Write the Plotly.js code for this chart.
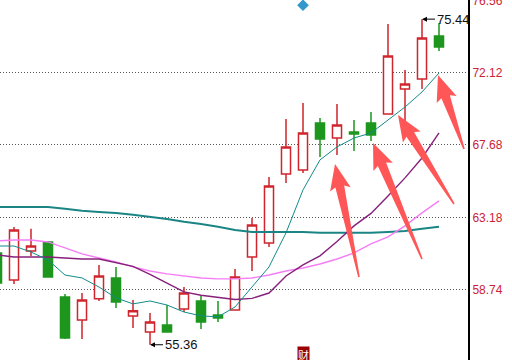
<!DOCTYPE html>
<html><head><meta charset="utf-8">
<script src="https://cdn.plot.ly/plotly-3.0.1.min.js"></script>
<style>html,body{margin:0;padding:0;background:#fff;overflow:hidden}#chart{width:512px;height:360px}</style>
</head><body><div id="chart"></div>
<script>
// ---- data ----
const idx   = [0,1,2,3,4,5,6,7,8,9,10,11,12,13,14,15,16,17,18,19,20,21,22,23,24,25,26];
const open  = [61.02,59.36,61.14,61.70,58.31,56.89,58.19,59.48,57.14,56.15,56.58,57.57,58.06,57.20,57.51,60.77,61.64,65.89,66.14,69.04,68.11,68.48,69.04,69.59,71.13,71.75,74.40];
const high  = [61.10,62.62,62.51,61.76,58.49,58.55,60.28,60.16,58.12,57.32,57.81,58.92,58.37,58.06,60.03,63.18,65.71,69.28,70.27,69.35,70.21,69.22,69.72,75.14,72.31,75.44,75.20];
const low   = [59.10,59.11,60.84,59.54,55.72,55.72,58.06,57.63,56.40,55.36,56.15,57.38,56.33,56.77,57.45,59.91,61.39,65.34,65.95,66.94,67.06,67.31,67.93,69.59,69.16,71.13,73.48];
const close = [59.17,62.44,61.45,59.54,55.78,58.12,59.60,58.00,57.45,56.77,56.15,58.55,56.77,57.01,59.54,62.75,65.15,67.56,68.42,68.05,68.91,68.36,68.30,73.17,71.44,74.28,73.72];
const ma5   = [61.45,61.45,61.08,60.59,59.66,59.48,58.92,58.25,57.88,58.06,57.81,57.38,57.14,57.08,57.69,58.92,60.16,62.26,64.91,66.76,67.56,68.11,68.42,69.22,70.02,70.95,72.12];
const ma10  = [60.90,60.77,60.77,60.77,60.71,60.65,60.65,60.40,60.19,59.70,59.14,58.62,58.41,58.26,58.15,58.22,58.55,59.60,60.28,60.84,61.73,62.69,63.46,64.54,65.65,66.88,68.42];
const ma20  = [61.76,61.82,61.82,61.70,61.33,60.96,60.71,60.47,60.16,59.91,59.73,59.60,59.48,59.42,59.42,59.48,59.66,59.91,60.09,60.34,60.65,61.02,61.58,62.01,62.69,63.49,64.23];
const ma60  = [63.86,63.86,63.86,63.86,63.74,63.62,63.55,63.49,63.37,63.24,63.12,62.94,62.81,62.63,62.44,62.32,62.32,62.32,62.32,62.26,62.26,62.26,62.26,62.32,62.38,62.51,62.63];
const tickVals   = [58.74,63.18,67.68,72.12,76.56];
const tickLabels = ['58.74','63.18','67.68','72.12','76.56'];
const signalX = [18];
const signalY = [76.30];
const badgeX = 18;
const badgeText = '财';

// ---- helpers ----
const PW = 468, PH = 360;
const X = p => (p / PW).toFixed(5);
const Y = p => (1 - p / PH).toFixed(5);
function arrowPath(tx, ty, ex, ey) {
  const L = Math.hypot(ex - tx, ey - ty);
  const ux = (ex - tx) / L, uy = (ey - ty) / L, nx = -uy, ny = ux;
  const hl = 26, hw = 10.5, sl = 23, sw = 4.5, tw = 0.8;
  const pts = [
    [tx, ty],
    [tx + ux*hl + nx*hw, ty + uy*hl + ny*hw],
    [tx + ux*sl + nx*sw, ty + uy*sl + ny*sw],
    [ex + nx*tw, ey + ny*tw],
    [ex - nx*tw, ey - ny*tw],
    [tx + ux*sl - nx*sw, ty + uy*sl - ny*sw],
    [tx + ux*hl - nx*hw, ty + uy*hl - ny*hw]
  ];
  return 'M' + pts.map(p => X(p[0]) + ',' + Y(p[1])).join(' L') + ' Z';
}
const arrowDefs = [[335,164,359,277],[373,143,422,259],[398,115,454,204],[438,75,464,149]];
const shapes = arrowDefs.map(a => ({
  type: 'path', xref: 'paper', yref: 'paper', path: arrowPath(...a),
  fillcolor: '#ff5757', line: {width: 0}, layer: 'above'
}));

let hiI = 0, loI = 0;
high.forEach((v, i) => { if (v > high[hiI]) hiI = i; });
low.forEach((v, i) => { if (v < low[loI]) loI = i; });

const traces = [
  {type:'scatter', mode:'lines', x: idx, y: ma60, line:{color:'#1b8585', width:2}, hoverinfo:'skip'},
  {type:'scatter', mode:'lines', x: idx, y: ma20, line:{color:'#f57ef5', width:1.4}, hoverinfo:'skip'},
  {type:'scatter', mode:'lines', x: idx, y: ma10, line:{color:'#86207a', width:1.4}, hoverinfo:'skip'},
  {type:'scatter', mode:'lines', x: idx, y: ma5,  line:{color:'#128b8b', width:1}, hoverinfo:'skip'},
  {type:'candlestick', x: idx, open: open, high: high, low: low, close: close,
   increasing:{line:{color:'#d0252d', width:1.5}, fillcolor:'#ffffff'},
   decreasing:{line:{color:'#1d961d', width:1.5}, fillcolor:'#1d961d'},
   whiskerwidth: 0, hoverinfo:'skip'},
  {type:'scatter', mode:'markers', x: signalX, y: signalY,
   marker:{symbol:'diamond', size:9, color:'#3399cc'}, hoverinfo:'skip'}
];

const layout = {
  width: 512, height: 360,
  margin: {l:0, r:44, t:0, b:0},
  paper_bgcolor: '#ffffff', plot_bgcolor: '#ffffff',
  showlegend: false, hovermode: false, boxgap: 0.24,
  font: {family: 'Liberation Sans, Arial, sans-serif'},
  xaxis: {range: [3/17, 471/17], showgrid:false, zeroline:false, showticklabels:false,
          ticks:'', showline:false, rangeslider:{visible:false}, fixedrange:true},
  yaxis: {range: [54.42, 76.62], side:'right', tickvals: tickVals, ticktext: tickLabels,
          showgrid:true, gridcolor:'#555555', griddash:'1px,2px', gridwidth:1,
          zeroline:false, showline:true, linecolor:'#000000', linewidth:2, ticks:'',
          ticklabeloverflow:'allow',
          tickfont:{size:12, color:'#cc2233', family:'Liberation Sans, Arial, sans-serif'},
          fixedrange:true},
  shapes: shapes,
  annotations: [
    {x: idx[hiI], y: high[hiI], xref:'x', yref:'y', text: high[hiI].toFixed(2),
     showarrow:true, arrowhead:2, arrowsize:1, arrowwidth:1, arrowcolor:'#000',
     ax: 13, ay: 0, xanchor:'left', font:{size:13, color:'#111'}},
    {x: idx[loI], y: low[loI], xref:'x', yref:'y', text: low[loI].toFixed(2),
     showarrow:true, arrowhead:2, arrowsize:1, arrowwidth:1, arrowcolor:'#000',
     ax: 13, ay: 0, xanchor:'left', font:{size:13, color:'#111'}},
    {x: badgeX, y: 0, xref:'x', yref:'paper', yanchor:'bottom', yshift:-4,
     text: badgeText, showarrow:false, bgcolor:'#990000', borderpad:0,
     font:{size:11, color:'#ffffff', family:'Noto Sans CJK SC'}}
  ]
};
Plotly.newPlot('chart', traces, layout, {displayModeBar:false, staticPlot:true});
</script>
</body></html>
